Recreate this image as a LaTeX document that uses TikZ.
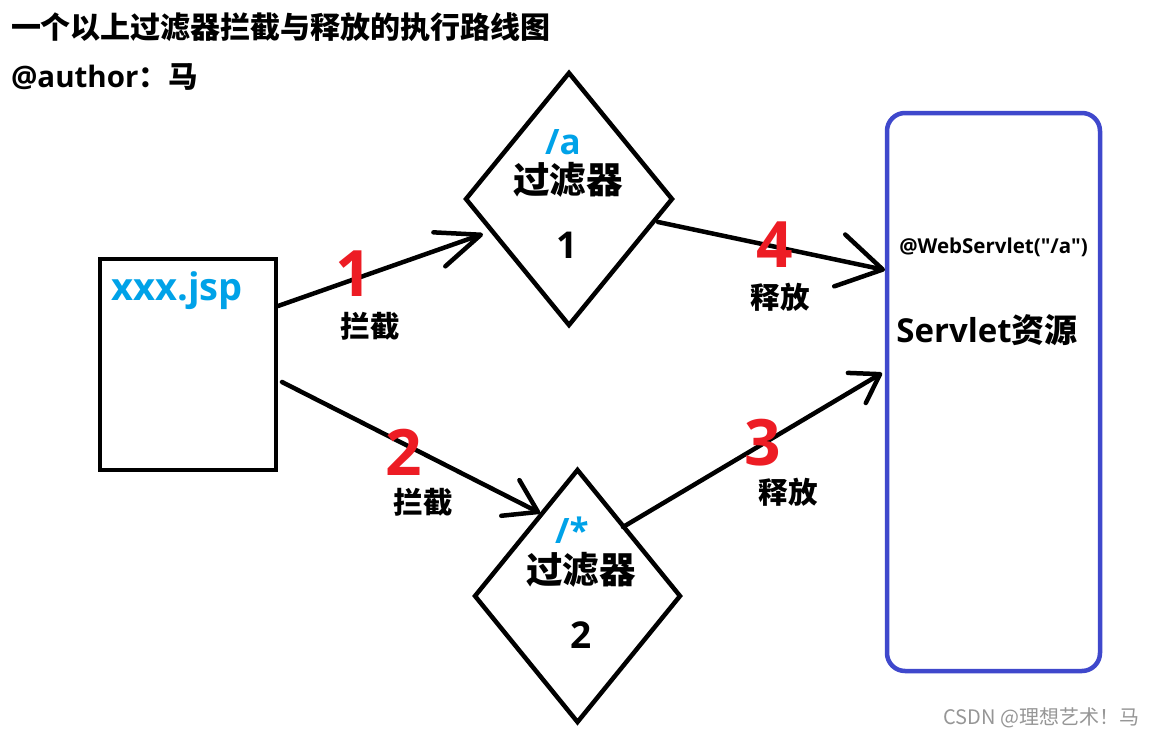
\documentclass[tikz,border=0pt]{standalone}
\usepackage{fontspec}
\setmainfont{Noto Sans CJK SC}
\newfontfamily\lat{Open Sans}
\usetikzlibrary{shapes.geometric,arrows.meta}
\definecolor{pred}{RGB}{237,28,36}
\definecolor{pblue}{RGB}{0,162,232}
\definecolor{pindigo}{RGB}{63,72,204}
\definecolor{wmgray}{RGB}{150,150,150}
\begin{document}
\begin{tikzpicture}[x=1pt,y=-1pt,
  shapebox/.style={draw=black,line width=4.5pt,inner sep=0pt,outer sep=0pt},
  filterbox/.style={shapebox,diamond,minimum width=206pt,minimum height=252pt},
  arr/.style n args={2}{line width=4.5pt,line cap=round,-{Straight Barb[length=#1pt,width=#2pt,round]}},
  txt/.style={font=\bfseries\fontsize{#1}{#1}\selectfont,inner sep=0pt,outer sep=0pt},
  ltxt/.style={font=\lat\bfseries\fontsize{#1}{#1}\selectfont,inner sep=0pt,outer sep=0pt},
  num/.style={ltxt=64,text=pred},
  lbl/.style={txt=29.5},
  path/.style={ltxt=35,text=pblue}
]
\useasboundingbox[fill=white] (0,0) rectangle (1152,736);

% title
\node[txt=30,anchor=west] (title) at (11,27) {一个以上过滤器拦截与释放的执行路线图};
\node[txt=29.5,anchor=west] (author) at (11,77) {{\lat @author}：马};

% jsp box
\node[shapebox,minimum width=176pt,minimum height=211pt] (jsp) at (188,364.5) {};
\node[ltxt=38,text=pblue,anchor=base] (jsptxt) at (177,300) {xxx.jsp};

% filters
\node[filterbox] (d1) at (569,199) {};
\node[path] (d1p) at (563,142) {/a};
\node[txt=36.5] (d1t) at (568,180) {过滤器};
\node[ltxt=37] (d1n) at (567,245) {1};

\node[filterbox,minimum width=205pt] (d2) at (577.5,596) {};
\node[path] (d2p) at (572,530) {/*};
\node[txt=36.5] (d2t) at (581,570) {过滤器};
\node[ltxt=37] (d2n) at (581,635) {2};

% servlet
\node[draw=pindigo,line width=4.5pt,rounded corners=18pt,inner sep=0pt,outer sep=0pt,
      minimum width=213pt,minimum height=558pt] (sv) at (993.5,392) {};
\node[ltxt=20.5] (svann) at (993.5,247) {@WebServlet("/a")};
\node[txt=33] (svname) at (987,330) {{\lat Servlet}资源};

% arrows
\draw[arr={44}{36}] ([shift={(2,-58.5)}]jsp.east) -- ([shift={(17,35)}]d1.west);
\draw[arr={31}{40}] ([shift={(6,17.5)}]jsp.east) -- ([shift={(-37.5,43)}]d2.north);
\draw[arr={27}{35}] ([shift={(45.5,57)}]d2.north) -- ([shift={(-5,-19)}]sv.west);
\draw[arr={44}{53}] ([shift={(-14,23)}]d1.east) -- ([shift={(-2,-122)}]sv.west);

% labels
\node[num] (n1) at (354,274) {1};
\node[lbl] (l1) at (370,326) {拦截};
\node[num] (n2) at (404,452.5) {2};
\node[lbl] (l2) at (423,502) {拦截};
\node[num] (n4) at (775,245) {4};
\node[lbl] (l4) at (780,297) {释放};
\node[num] (n3) at (763,443) {3};
\node[lbl] (l3) at (788,492) {释放};

% watermark
\node[font=\fontsize{20}{20}\selectfont,text=wmgray,inner sep=0pt] (wm) at (1041.5,718) {CSDN @理想艺术！马};
\end{tikzpicture}
\end{document}
